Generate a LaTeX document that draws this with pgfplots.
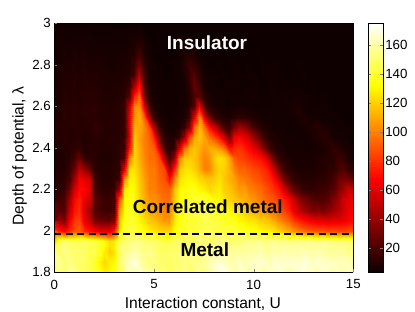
\documentclass[border=0pt]{standalone}
\usepackage{fontspec}
\setmainfont{Liberation Sans}
\usepackage{pgfplots}
\pgfplotsset{compat=1.18}
\pgfplotsset{colormap={hotm}{rgb(0pt)=(0.04,0,0) rgb(3pt)=(1,0,0) rgb(6pt)=(1,1,0) rgb(8pt)=(1,1,1)}}
\begin{document}
\begin{tikzpicture}[x=1pt,y=1pt]
\path[use as bounding box] (0,0) rectangle (415,312);
\begin{axis}[
 at={(54.3pt,39.7pt)}, anchor=south west,
 scale only axis, width=299pt, height=249pt,
 view={0}{90},
 xmin=0,xmax=15,ymin=1.8,ymax=3,
 zmin=0,zmax=300,
 xtick={0,5,10,15}, ytick={1.8,2,2.2,2.4,2.6,2.8,3},
 yticklabels={1.8,2,2.2,2.4,2.6,2.8,3},
 tick align=inside, tick pos=left, major tick length=3pt,
 axis on top,
 /pgf/number format/assume math mode=true,
 tick label style={font=\fontsize{13.3}{14}\selectfont},
 label style={font=\fontsize{15.6}{16}\selectfont},
 xlabel={Interaction constant, U},
 ylabel={Depth of potential, λ},
 xlabel style={at={(axis description cs:0.497,0)},anchor=north,yshift=-21pt},
 ylabel style={at={(axis description cs:0,0.467)},anchor=south,yshift=24pt},
 xticklabel style={yshift=-4pt},
 colormap name=hotm,
 point meta min=3, point meta max=175,
 colorbar,
 colorbar style={
   at={(1.05,1)}, anchor=north west,
   width=15pt,
   ytick={20,40,60,80,100,120,140,160},
   yticklabel pos=right,
   tick align=inside,
   major tick length=3pt,
   /pgf/number format/assume math mode=true,
   yticklabel style={font=\fontsize{13.3}{14}\selectfont,xshift=-1.5pt},
 },
]
\addplot3[surf, shader=interp, mesh/cols=61, mesh/ordering=x varies, point meta=\thisrowno{0}]
 table[header=false, row sep=\\, x expr={mod(\coordindex,61)*0.25}, y expr={1.8+floor(\coordindex/61)*0.05}, z expr=0] {
150\\155\\150\\160\\155\\150\\148\\145\\142\\135\\128\\130\\135\\148\\155\\165\\160\\168\\158\\160\\155\\150\\152\\148\\150\\152\\155\\150\\152\\158\\155\\160\\165\\170\\172\\165\\160\\165\\168\\160\\165\\165\\160\\168\\165\\170\\165\\162\\165\\168\\170\\165\\165\\162\\168\\165\\162\\165\\160\\165\\162\\
152\\158\\150\\155\\152\\148\\150\\145\\140\\130\\122\\128\\132\\150\\158\\165\\170\\162\\158\\152\\155\\150\\150\\148\\152\\150\\155\\152\\155\\155\\158\\162\\165\\168\\165\\162\\162\\165\\162\\165\\165\\168\\165\\162\\168\\165\\168\\165\\168\\165\\170\\168\\165\\168\\165\\165\\165\\162\\165\\162\\160\\
155\\150\\155\\152\\150\\152\\148\\145\\145\\138\\128\\120\\125\\150\\155\\158\\162\\158\\155\\158\\152\\150\\148\\150\\150\\152\\150\\155\\152\\150\\155\\158\\155\\158\\160\\158\\158\\160\\158\\160\\160\\162\\160\\158\\162\\160\\162\\160\\162\\160\\162\\160\\160\\162\\160\\158\\158\\160\\158\\155\\155\\
150\\148\\152\\150\\148\\146\\150\\145\\145\\142\\135\\125\\128\\148\\150\\152\\155\\155\\150\\152\\150\\148\\145\\145\\148\\150\\150\\152\\150\\155\\152\\150\\152\\155\\155\\152\\150\\152\\155\\155\\155\\158\\155\\155\\158\\155\\158\\155\\155\\158\\155\\158\\155\\155\\158\\155\\155\\152\\155\\152\\150\\
82\\75\\68\\78\\88\\90\\78\\72\\66\\62\\60\\60\\75\\128\\140\\142\\142\\138\\132\\128\\125\\122\\120\\122\\132\\138\\140\\142\\142\\145\\145\\145\\145\\145\\142\\142\\142\\140\\138\\135\\135\\132\\130\\128\\125\\120\\115\\110\\105\\100\\95\\92\\90\\88\\88\\86\\86\\85\\85\\86\\88\\
55\\42\\32\\62\\80\\85\\62\\52\\32\\28\\26\\26\\32\\118\\135\\140\\138\\130\\125\\118\\115\\110\\105\\105\\125\\135\\138\\140\\140\\142\\145\\145\\142\\140\\138\\138\\135\\130\\128\\125\\125\\120\\118\\115\\110\\102\\96\\90\\82\\75\\70\\66\\62\\60\\60\\58\\60\\60\\62\\66\\70\\
30\\24\\22\\50\\72\\78\\56\\45\\22\\18\\16\\16\\18\\108\\132\\138\\135\\125\\118\\110\\108\\105\\100\\100\\122\\135\\138\\142\\142\\145\\145\\142\\140\\138\\135\\130\\128\\125\\120\\115\\112\\108\\105\\100\\95\\88\\82\\75\\62\\52\\44\\38\\32\\34\\30\\36\\42\\48\\55\\62\\66\\
22\\18\\20\\42\\68\\78\\62\\55\\25\\18\\16\\16\\18\\90\\130\\135\\132\\122\\112\\105\\105\\100\\95\\95\\118\\132\\135\\138\\140\\142\\140\\138\\132\\130\\125\\122\\118\\115\\112\\108\\105\\100\\95\\90\\88\\82\\75\\68\\55\\42\\32\\28\\24\\22\\22\\25\\35\\42\\55\\60\\65\\
15\\12\\14\\28\\55\\70\\68\\62\\22\\14\\12\\12\\14\\40\\125\\132\\130\\120\\110\\100\\100\\95\\92\\90\\115\\130\\132\\135\\135\\130\\128\\122\\125\\128\\120\\118\\112\\105\\108\\100\\98\\95\\90\\85\\78\\72\\55\\38\\28\\20\\15\\14\\14\\15\\16\\18\\22\\32\\42\\52\\50\\
12\\10\\12\\18\\42\\65\\60\\58\\18\\12\\10\\10\\12\\16\\105\\130\\128\\118\\108\\100\\98\\92\\88\\70\\100\\125\\128\\130\\128\\122\\120\\118\\120\\125\\118\\112\\108\\100\\98\\95\\90\\88\\82\\78\\68\\50\\30\\20\\14\\12\\10\\10\\10\\12\\12\\14\\18\\28\\32\\30\\25\\
10\\9\\10\\14\\28\\50\\40\\30\\14\\10\\10\\10\\11\\14\\60\\125\\125\\115\\105\\98\\98\\90\\85\\40\\75\\118\\125\\125\\120\\112\\100\\102\\115\\122\\120\\112\\100\\92\\92\\88\\85\\82\\78\\70\\50\\28\\16\\12\\9\\8\\8\\8\\8\\9\\10\\12\\12\\18\\22\\14\\10\\
10\\8\\9\\11\\16\\28\\15\\12\\12\\10\\9\\9\\10\\12\\22\\100\\122\\112\\102\\95\\95\\85\\50\\16\\38\\100\\118\\120\\118\\110\\100\\105\\118\\125\\122\\110\\90\\85\\82\\78\\75\\72\\65\\48\\25\\14\\10\\8\\7\\7\\7\\7\\7\\8\\9\\10\\11\\16\\14\\9\\7\\
11\\9\\10\\10\\12\\14\\10\\10\\11\\10\\10\\10\\10\\12\\16\\70\\120\\110\\100\\95\\90\\60\\18\\10\\14\\55\\95\\112\\118\\112\\105\\110\\110\\105\\95\\70\\78\\80\\75\\68\\60\\50\\32\\18\\12\\9\\7\\6\\6\\6\\6\\6\\6\\7\\8\\9\\13\\11\\8\\7\\6\\
12\\10\\11\\10\\10\\10\\9\\10\\12\\11\\10\\10\\10\\12\\14\\55\\118\\108\\100\\92\\75\\30\\12\\8\\8\\14\\40\\85\\110\\118\\108\\95\\85\\72\\55\\30\\62\\68\\62\\52\\40\\28\\16\\10\\8\\7\\6\\6\\6\\6\\5\\6\\8\\9\\11\\10\\7\\6\\6\\5\\5\\
12\\10\\12\\10\\11\\10\\10\\11\\13\\12\\10\\10\\10\\11\\14\\60\\112\\110\\100\\85\\40\\14\\8\\6\\6\\7\\14\\35\\95\\115\\95\\70\\55\\35\\18\\14\\32\\42\\38\\28\\18\\12\\8\\7\\6\\6\\5\\5\\5\\6\\6\\8\\9\\11\\8\\7\\6\\5\\5\\5\\4\\
11\\9\\12\\10\\12\\10\\11\\12\\12\\11\\10\\10\\10\\11\\14\\60\\105\\112\\90\\40\\15\\8\\6\\5\\5\\6\\8\\16\\60\\105\\60\\28\\16\\10\\8\\7\\10\\12\\12\\10\\8\\7\\6\\6\\5\\5\\5\\5\\6\\8\\8\\6\\6\\6\\5\\5\\5\\5\\4\\4\\4\\
10\\9\\11\\10\\12\\10\\12\\11\\12\\10\\10\\9\\10\\11\\14\\50\\100\\105\\60\\16\\8\\6\\5\\5\\5\\5\\6\\10\\22\\65\\22\\10\\7\\6\\6\\5\\6\\6\\6\\6\\5\\5\\5\\5\\5\\5\\6\\6\\8\\8\\6\\5\\5\\5\\5\\5\\4\\4\\4\\4\\4\\
10\\8\\10\\10\\ 11\\9\\11\\10\\ 10\\10\\9\\9\\ 9\\10\\12\\22\\ 75\\95\\30\\10\\ 6\\5\\5\\5\\ 5\\5\\6\\10\\ 20\\24\\12\\7\\ 5\\5\\5\\5\\ 5\\5\\5\\6\\ 6\\5\\5\\5\\ 5\\5\\6\\5\\ 5\\6\\5\\5\\ 5\\4\\5\\4\\ 4\\4\\4\\4\\ 4\\
9\\8\\10\\9\\ 10\\9\\10\\10\\ 10\\9\\9\\8\\ 9\\9\\10\\14\\ 45\\75\\22\\8\\ 6\\5\\5\\5\\ 5\\5\\7\\12\\ 26\\16\\8\\5\\ 5\\5\\4\\5\\ 5\\4\\5\\5\\ 5\\5\\4\\5\\ 5\\4\\5\\5\\ 5\\5\\4\\4\\ 5\\4\\4\\4\\ 4\\4\\4\\4\\ 4\\
9\\7\\9\\9\\ 10\\8\\10\\9\\ 9\\9\\8\\8\\ 8\\8\\9\\10\\ 18\\50\\18\\7\\ 5\\5\\4\\5\\ 5\\5\\8\\14\\ 22\\12\\6\\5\\ 5\\4\\5\\4\\ 5\\5\\4\\5\\ 5\\4\\5\\5\\ 5\\5\\4\\4\\ 5\\4\\5\\4\\ 4\\4\\4\\4\\ 4\\4\\4\\4\\ 4\\
8\\7\\8\\8\\ 9\\8\\9\\8\\ 8\\8\\8\\7\\ 7\\8\\8\\9\\ 15\\30\\12\\7\\ 5\\5\\4\\4\\ 5\\6\\10\\16\\ 14\\8\\5\\4\\ 4\\5\\4\\4\\ 5\\4\\4\\5\\ 4\\4\\5\\4\\ 5\\4\\4\\4\\ 4\\5\\4\\4\\ 4\\4\\4\\4\\ 4\\4\\4\\4\\ 4\\
7\\6\\8\\7\\ 8\\7\\8\\7\\ 7\\7\\7\\6\\ 7\\7\\7\\8\\ 10\\18\\9\\6\\ 4\\4\\4\\4\\ 4\\5\\8\\10\\ 8\\5\\4\\4\\ 4\\4\\4\\5\\ 4\\4\\4\\4\\ 4\\5\\4\\4\\ 4\\4\\4\\4\\ 4\\4\\4\\4\\ 4\\4\\4\\4\\ 4\\4\\4\\4\\ 4\\
7\\6\\7\\6\\ 7\\6\\7\\7\\ 6\\6\\6\\6\\ 6\\6\\6\\7\\ 8\\11\\7\\5\\ 4\\4\\4\\4\\ 4\\4\\5\\5\\ 5\\4\\4\\4\\ 4\\4\\4\\4\\ 4\\4\\4\\4\\ 4\\4\\4\\4\\ 4\\4\\4\\4\\ 4\\4\\4\\4\\ 4\\4\\4\\4\\ 4\\4\\4\\4\\ 4\\
6\\6\\6\\5\\ 6\\6\\6\\6\\ 5\\5\\5\\5\\ 5\\5\\5\\6\\ 6\\7\\5\\4\\ 4\\4\\4\\4\\ 4\\4\\4\\4\\ 4\\4\\4\\4\\ 4\\4\\4\\4\\ 4\\4\\4\\4\\ 4\\4\\4\\4\\ 4\\4\\4\\4\\ 4\\4\\4\\4\\ 4\\4\\4\\4\\ 4\\4\\4\\4\\ 4\\
5\\5\\5\\5\\ 5\\5\\5\\5\\ 5\\5\\5\\5\\ 4\\4\\4\\4\\ 5\\5\\4\\4\\ 4\\4\\4\\4\\ 4\\4\\4\\4\\ 4\\4\\4\\4\\ 4\\4\\4\\4\\ 4\\4\\4\\4\\ 4\\4\\4\\4\\ 4\\4\\4\\4\\ 4\\4\\4\\4\\ 4\\4\\4\\4\\ 4\\4\\4\\4\\ 4\\
5\\5\\5\\5\\ 5\\5\\5\\5\\ 5\\5\\5\\5\\ 4\\4\\4\\4\\ 5\\5\\4\\4\\ 4\\4\\4\\4\\ 4\\4\\4\\4\\ 4\\4\\4\\4\\ 4\\4\\4\\4\\ 4\\4\\4\\4\\ 4\\4\\4\\4\\ 4\\4\\4\\4\\ 4\\4\\4\\4\\ 4\\4\\4\\4\\ 4\\4\\4\\4\\ 4\\};
\addplot3[black, line width=1.6pt, dash pattern=on 7pt off 4.5pt] coordinates {(0,1.985,1) (15,1.985,1)};
\node[text=white,font=\bfseries\fontsize{19}{20}\selectfont] at (axis cs:7.66,2.906,1) {Insulator};
\node[text=black,font=\bfseries\fontsize{19}{20}\selectfont] at (axis cs:7.7,2.114,1) {Correlated metal};
\node[text=black,font=\bfseries\fontsize{19}{20}\selectfont] at (axis cs:7.55,1.907,1) {Metal};
\end{axis}
\end{tikzpicture}
\end{document}
